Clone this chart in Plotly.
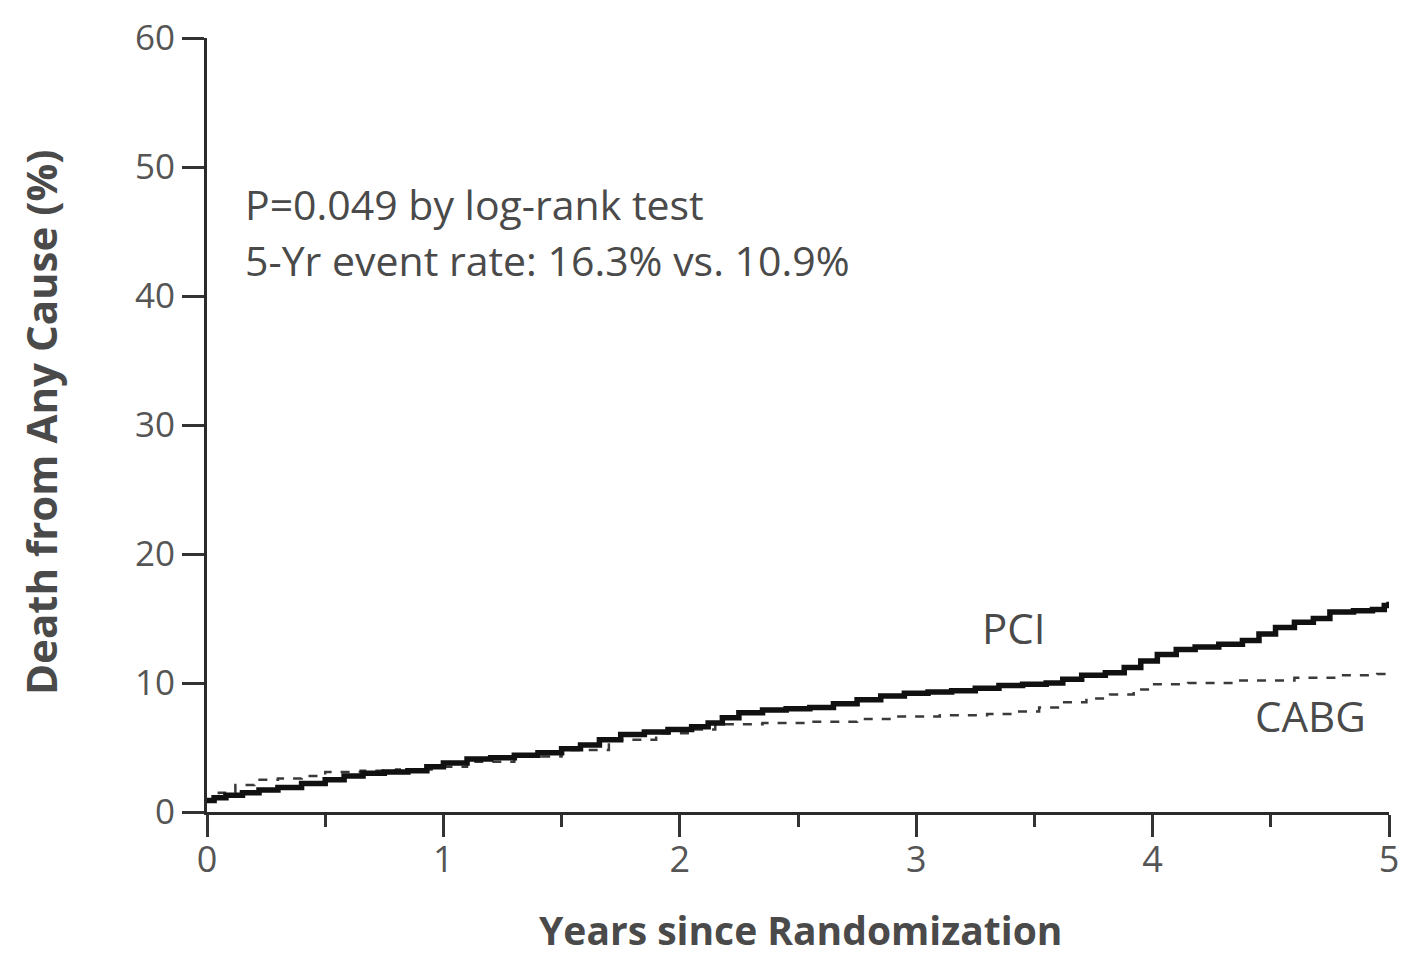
import plotly.graph_objects as go

# Data
pci_years = [0.0, 0.03, 0.08, 0.15, 0.22, 0.3, 0.4, 0.5, 0.58, 0.66, 0.75, 0.85, 0.93, 1.0, 1.1,
             1.2, 1.3, 1.4, 1.5, 1.58, 1.66, 1.75, 1.85, 1.95, 2.05, 2.12, 2.18, 2.25, 2.35,
             2.45, 2.55, 2.65, 2.75, 2.85, 2.95, 3.05, 3.15, 3.25, 3.35, 3.45, 3.55, 3.62,
             3.7, 3.8, 3.88, 3.95, 4.02, 4.1, 4.18, 4.28, 4.38, 4.45, 4.52, 4.6, 4.68, 4.75,
             4.85, 4.93, 4.98, 5.0]
pci_pct = [0.9, 1.1, 1.3, 1.5, 1.7, 1.9, 2.2, 2.5, 2.8, 3.0, 3.1, 3.2, 3.5, 3.8, 4.1,
           4.2, 4.4, 4.6, 4.9, 5.2, 5.6, 6.0, 6.2, 6.4, 6.6, 6.9, 7.3, 7.7, 7.9,
           8.0, 8.1, 8.4, 8.7, 9.0, 9.2, 9.3, 9.4, 9.6, 9.8, 9.9, 10.0, 10.3,
           10.6, 10.8, 11.2, 11.7, 12.2, 12.6, 12.8, 13.0, 13.3, 13.8, 14.3, 14.7, 15.0, 15.5,
           15.6, 15.7, 16.0, 16.3]

cabg_years = [0.0, 0.05, 0.12, 0.2, 0.3, 0.4, 0.5, 0.65, 0.8, 0.95, 1.1, 1.3, 1.5, 1.7, 1.9,
              2.05, 2.15, 2.35, 2.55, 2.75, 2.9, 3.1, 3.3, 3.42, 3.52, 3.62, 3.72, 3.82, 3.92,
              4.0, 4.15, 4.35, 4.6, 4.8, 4.95, 5.0]
cabg_pct = [0.9, 1.5, 2.1, 2.5, 2.6, 2.8, 3.1, 3.2, 3.3, 3.5, 3.9, 4.3, 4.8, 5.6, 6.1,
            6.4, 6.8, 6.9, 7.0, 7.2, 7.4, 7.5, 7.6, 7.8, 8.1, 8.5, 8.8, 9.1, 9.5,
            9.9, 10.0, 10.2, 10.4, 10.6, 10.7, 10.9]

x_ticks = [0, 1, 2, 3, 4, 5]
y_ticks = [0, 10, 20, 30, 40, 50, 60]

FONT = "Open Sans"
GRAY = "#555555"
TEXT = "#4a4a4a"

# The page body has an 8px margin, so the figure is drawn 8px in from the top-left.
OFF = 8
W, H = 1407 - 2 * OFF, 966 - 2 * OFF
# plot area in window pixels: x 207..1389, y 38..812
L = 207 - OFF
T = 38 - OFF
R = W - (1389 - OFF)
B = H - (812 - OFF)
PW, PH = W - L - R, H - T - B


def win_to_paper(px, py):
    return (px - OFF - L) / PW, (H - B - (py - OFF)) / PH


fig = go.Figure()
fig.add_trace(go.Scatter(x=cabg_years, y=cabg_pct, mode="lines", line_shape="hv",
                         line=dict(color="#3a3a3a", width=2.5, dash="dash"),
                         name="CABG", cliponaxis=False))
fig.add_trace(go.Scatter(x=pci_years, y=pci_pct, mode="lines", line_shape="hv",
                         line=dict(color="#111111", width=5.5),
                         name="PCI", cliponaxis=False))

fig.add_annotation(x=0.152, y=47.1, xref="x", yref="y", text="P=0.049 by log-rank test",
                   showarrow=False, xanchor="left", yanchor="middle",
                   font=dict(family=FONT, size=41, color=TEXT))
fig.add_annotation(x=0.152, y=42.8, xref="x", yref="y", text="5-Yr event rate: 16.3% vs. 10.9%",
                   showarrow=False, xanchor="left", yanchor="middle",
                   font=dict(family=FONT, size=41, color=TEXT))
fig.add_annotation(x=3.41, y=14.3, xref="x", yref="y", text="PCI", showarrow=False,
                   font=dict(family=FONT, size=42, color=TEXT))
fig.add_annotation(x=4.67, y=7.5, xref="x", yref="y", text="CABG", showarrow=False,
                   font=dict(family=FONT, size=42, color=TEXT))

# axis titles
ytx, yty = win_to_paper(40, 422)
fig.add_annotation(x=ytx, y=yty, xref="paper", yref="paper", text="<b>Death from Any Cause (%)</b>",
                   textangle=-90, showarrow=False, xanchor="center", yanchor="middle",
                   font=dict(family=FONT, size=42, color=TEXT))
xtx, xty = win_to_paper(800, 958)
fig.add_annotation(x=xtx, y=xty, xref="paper", yref="paper", text="<b>Years since Randomization</b>",
                   showarrow=False, xanchor="center", yanchor="bottom",
                   font=dict(family=FONT, size=39, color=TEXT))

fig.update_layout(
    width=W, height=H,
    margin=dict(l=L, r=R, t=T, b=B),
    paper_bgcolor="white", plot_bgcolor="white",
    showlegend=False,
    font=dict(family=FONT, color=GRAY),
)
fig.update_xaxes(range=[0, 5], tickvals=x_ticks, ticktext=[str(v) for v in x_ticks],
                 automargin=False,
                 showgrid=False, zeroline=False, showline=True, linecolor="#2a2a2a", linewidth=3,
                 ticks="outside", ticklen=22, tickwidth=2.5, tickcolor="#333333",
                 ticklabelstandoff=-8, ticklabeloverflow="allow",
                 minor=dict(dtick=0.5, tick0=0, ticks="outside", ticklen=12, tickwidth=2.5,
                            tickcolor="#333333", showgrid=False),
                 tickfont=dict(family=FONT, size=36, color=GRAY))
fig.update_yaxes(range=[0, 60], tickvals=y_ticks, ticktext=[str(v) for v in y_ticks],
                 automargin=False,
                 showgrid=False, zeroline=False, showline=True, linecolor="#2a2a2a", linewidth=3,
                 ticks="outside", ticklen=22, tickwidth=2.5, tickcolor="#333333",
                 ticklabeloverflow="allow",
                 tickfont=dict(family=FONT, size=35, color=GRAY))

fig.write_html("out.html")
